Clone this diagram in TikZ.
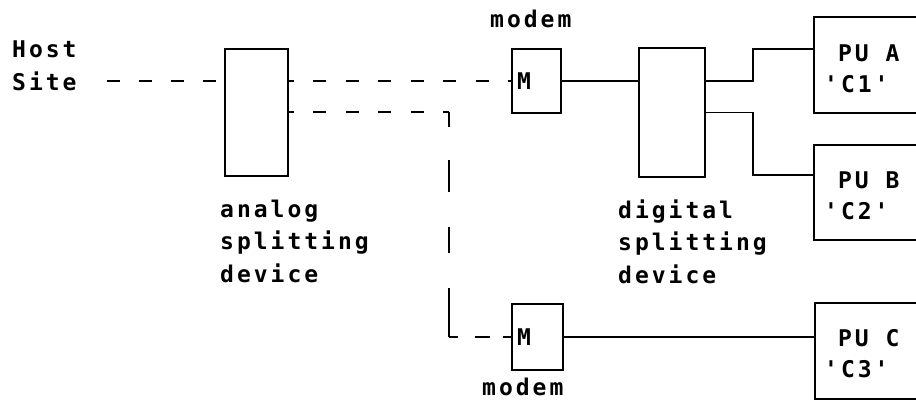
\documentclass[tikz,border=0pt]{standalone}
\usepackage{fontspec}
\newfontfamily\printfont[LetterSpace=13]{DejaVu Sans Mono}
\usetikzlibrary{calc}

\tikzset{
  wire/.style={line width=1.5pt, line cap=butt},
  hdash/.style={wire, dash pattern=on 13pt off 19.5pt, dash phase=8pt},
  hostdash/.style={wire, dash pattern=on 12.5pt off 19.5pt},
  vdash/.style={wire, dash pattern=on 15pt off 33pt on 32pt off 35pt on 26pt off 35pt on 60pt},
  ldash/.style={wire, dash pattern=on 9pt off 17pt on 15pt off 13pt on 30pt},
  unit/.style={draw, line width=1.5pt, rectangle, inner sep=0pt},
  modembox/.style={unit, minimum width=49pt, minimum height=64pt,
    inner xsep=5pt, text width=39pt, align=left,
    font=\printfont\bfseries\fontsize{23}{30}\selectfont},
  pubox/.style={unit, minimum width=140pt, minimum height=96pt},
  % multi-line labels: the base anchor sits on the last line
  txt/.style={inner sep=0pt, anchor=base west, align=left,
    font=\printfont\bfseries\fontsize{23}{32.5}\selectfont},
  putxt/.style={txt, font=\printfont\bfseries\fontsize{23}{30.5}\selectfont},
}

\begin{document}
\begin{tikzpicture}[x=1pt, y=-1pt]
  \useasboundingbox (0,0) rectangle (916,413);
  \fill[white] (0,0) rectangle (916,413);
  \clip (0,0) rectangle (916,413);

  % splitting devices
  \node[unit, minimum width=63pt, minimum height=127pt] (ana) at (256.5,112.5) {};
  \node[unit, minimum width=66pt, minimum height=129pt] (dig) at (672,112.5) {};

  % modems
  \node[modembox] (m1) at (536.5,81) {M};
  \node[modembox, minimum width=51pt, minimum height=66pt, text width=41pt] (m2) at (537.5,337) {M};

  % physical units (their right sides run off the page)
  \node[pubox] (puA) at (884,65) {};
  \node[pubox, minimum height=95pt] (puB) at (884,192.5) {};
  \node[pubox] (puC) at (885,351) {};

  % labels
  \node[txt] (host) at (12,90) {Host\\Site};
  \node[txt] (modemTop) at (490,27) {modem};
  \node[txt] (modemBot) at (482,395) {modem};
  \node[txt] (anaLbl) at (220,282) {analog\\splitting\\device};
  \node[txt] (digLbl) at (618,283) {digital\\splitting\\device};
  \node[putxt] (puAtxt) at (824,92) {\phantom{'}PU A\\'C1'};
  \node[putxt] (puBtxt) at (824,219) {\phantom{'}PU B\\'C2'};
  \node[putxt] (puCtxt) at (824,377) {\phantom{'}PU C\\'C3'};

  % analog (dashed) links
  \coordinate (hostEnd) at (107,81);
  \draw[hostdash] (hostEnd) -- (hostEnd -| ana.west);
  \draw[hdash] (m1.west -| ana.east) -- (m1.west);
  \coordinate (c1) at (449,112);
  \coordinate (c2) at (c1 |- m2.west);
  \draw[hdash] (c1 -| ana.east) -- (c1);
  \draw[vdash] (c1) -- (c2);
  \draw[ldash] (c2) -- (m2.west);

  % digital (solid) links
  \draw[wire] (m1.east) -- (m1.east -| dig.west);
  \draw[wire] (m1.east -| dig.east) -- ++(47,0) |- ([yshift=16pt]puA.west);
  \draw[wire] (dig.east) -- ++(47,0) |- ([yshift=17.5pt]puB.west);
  \draw[wire] (m2.east) -- (m2.east -| puC.west);
\end{tikzpicture}
\end{document}
